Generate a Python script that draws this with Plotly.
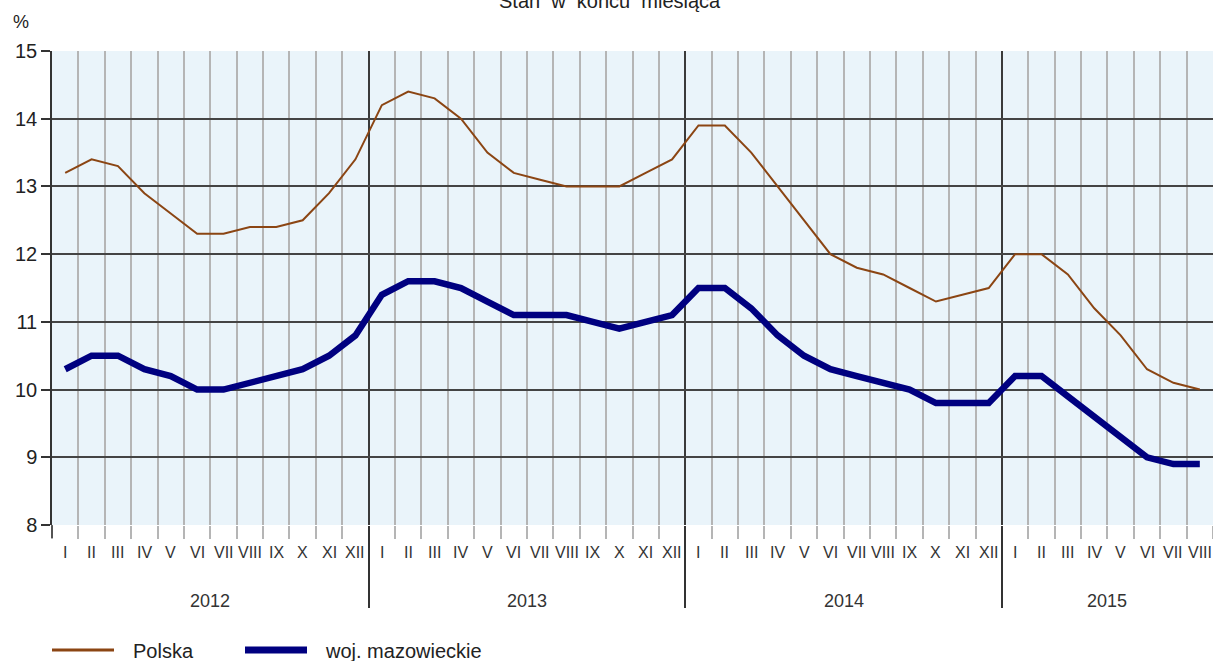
import plotly.graph_objects as go

years = ["2012", "2013", "2014", "2015"]
months_per_year = [12, 12, 12, 8]
roman = ["I", "II", "III", "IV", "V", "VI", "VII", "VIII", "IX", "X", "XI", "XII"]

polska = [13.2, 13.4, 13.3, 12.9, 12.6, 12.3, 12.3, 12.4, 12.4, 12.5, 12.9, 13.4,
          14.2, 14.4, 14.3, 14.0, 13.5, 13.2, 13.1, 13.0, 13.0, 13.0, 13.2, 13.4,
          13.9, 13.9, 13.5, 13.0, 12.5, 12.0, 11.8, 11.7, 11.5, 11.3, 11.4, 11.5,
          12.0, 12.0, 11.7, 11.2, 10.8, 10.3, 10.1, 10.0]
mazowieckie = [10.3, 10.5, 10.5, 10.3, 10.2, 10.0, 10.0, 10.1, 10.2, 10.3, 10.5, 10.8,
               11.4, 11.6, 11.6, 11.5, 11.3, 11.1, 11.1, 11.1, 11.0, 10.9, 11.0, 11.1,
               11.5, 11.5, 11.2, 10.8, 10.5, 10.3, 10.2, 10.1, 10.0, 9.8, 9.8, 9.8,
               10.2, 10.2, 9.9, 9.6, 9.3, 9.0, 8.9, 8.9]

month_labels = []
for n in months_per_year:
    month_labels += roman[:n]
n_months = len(month_labels)
xc = [i + 0.5 for i in range(n_months)]

FONT = "Liberation Sans, Arial, sans-serif"
TXT = "#333333"

W, H = 1213, 661
ML, MR, MT, MB = 52, 0, 51, 136
PW, PH = W - ML - MR, H - MT - MB

def px(X):
    return (X - ML) / PW

def py(Y):
    return (H - MB - Y) / PH

fig = go.Figure()
fig.add_trace(go.Scatter(x=xc, y=polska, mode="lines", name="Polska",
                         line=dict(color="#8B4513", width=2), showlegend=False))
fig.add_trace(go.Scatter(x=xc, y=mazowieckie, mode="lines", name="woj. mazowieckie",
                         line=dict(color="#000080", width=6.5), showlegend=False))

annotations = []
for i, lab in enumerate(month_labels):
    annotations.append(dict(x=xc[i], y=py(552), xref="x", yref="paper", text=lab,
                            showarrow=False, xanchor="center", yanchor="middle",
                            font=dict(family=FONT, size=16, color=TXT)))
start = 0
year_bounds = []
for yname, n in zip(years, months_per_year):
    annotations.append(dict(x=start + n / 2, y=py(601), xref="x", yref="paper", text=yname,
                            showarrow=False, xanchor="center", yanchor="middle",
                            font=dict(family=FONT, size=18, color=TXT)))
    start += n
    year_bounds.append(start)
year_bounds = [b for b in year_bounds if b < n_months]

annotations.append(dict(x=px(610), y=py(1), xref="paper", yref="paper",
                        text="Stan  w  końcu  miesiąca", showarrow=False,
                        xanchor="center", yanchor="middle",
                        font=dict(family=FONT, size=20, color="#222222")))
annotations.append(dict(x=px(21), y=py(22), xref="paper", yref="paper", text="%",
                        showarrow=False, xanchor="center", yanchor="middle",
                        font=dict(family=FONT, size=18, color="#222222")))
# legend
annotations.append(dict(x=px(131), y=py(651), xref="paper", yref="paper", text="Polska",
                        showarrow=False, xanchor="left", yanchor="middle",
                        font=dict(family=FONT, size=20, color="#222222")))
annotations.append(dict(x=px(323), y=py(651), xref="paper", yref="paper", text="woj. mazowieckie",
                        showarrow=False, xanchor="left", yanchor="middle",
                        font=dict(family=FONT, size=20, color="#222222")))

shapes = [
    dict(type="line", xref="paper", yref="paper", x0=px(52), x1=px(114), y0=py(650), y1=py(650),
         line=dict(color="#8B4513", width=3)),
    dict(type="line", xref="paper", yref="paper", x0=px(245), x1=px(307), y0=py(650), y1=py(650),
         line=dict(color="#000080", width=7)),
    dict(type="line", xref="paper", yref="paper", x0=0, x1=0, y0=0, y1=py(538),
         line=dict(color="#333333", width=1.5)),
]

fig.update_layout(
    width=W, height=H,
    margin=dict(l=ML, r=MR, t=MT, b=MB),
    paper_bgcolor="white",
    plot_bgcolor="#EAF4FA",
    annotations=annotations,
    shapes=shapes,
    showlegend=False,
    xaxis=dict(
        range=[0, n_months], showticklabels=False,
        tickmode="array", tickvals=year_bounds,
        ticks="outside", ticklen=82, tickwidth=1.5, tickcolor="#333333",
        showgrid=True, gridcolor="#3a3a3a", gridwidth=1.5,
        zeroline=False, showline=False,
        minor=dict(tickmode="linear", tick0=0, dtick=1, ticks="outside", ticklen=13,
                   tickwidth=2, tickcolor="#b5b5b5", showgrid=True,
                   gridcolor="#b5b5b5", gridwidth=2),
        fixedrange=True,
    ),
    yaxis=dict(
        range=[8, 15], tickmode="linear", tick0=8, dtick=1,
        ticks="outside", ticklen=9, tickwidth=1.5, tickcolor="#333333",
        showgrid=True, gridcolor="#444444", gridwidth=1.5,
        showline=True, linecolor="#333333", linewidth=1.5,
        zeroline=False,
        tickfont=dict(family=FONT, size=20, color="#222222"),
        fixedrange=True,
    ),
)

fig.write_html("out.html", config={"displayModeBar": False},
               post_script="document.body.style.margin='0';document.body.style.overflow='hidden';")
